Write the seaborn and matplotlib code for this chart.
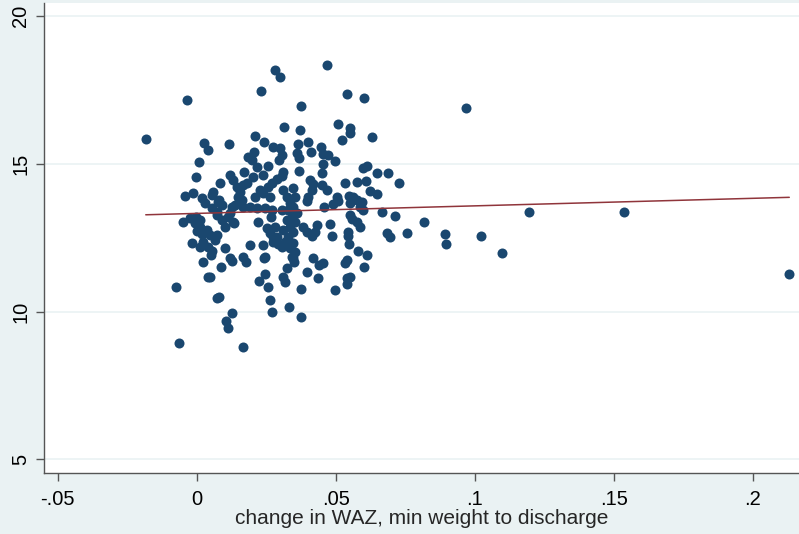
import numpy as np
import pandas as pd
import matplotlib
matplotlib.use("Agg")
import matplotlib.pyplot as plt
import seaborn as sns

# change in WAZ (min weight to discharge) vs outcome
waz_change = [
    -0.0183, -0.0035, 0.0231, 0.0282, 0.0300, 0.0469, 0.0541, 0.0602, 0.0375, 0.0969,
    0.0026, 0.0041, 0.0116, 0.0314, 0.0372, 0.0509, 0.0552, 0.0552, 0.0523, 0.0631,
    0.0210, 0.0242, 0.0275, 0.0300, 0.0307, 0.0296, 0.0365, 0.0361, 0.0368, 0.0401,
    0.0411, 0.0447, 0.0455, 0.0473, 0.0498, 0.0455, 0.0613, 0.0206, 0.0185, 0.0199,
    0.0008, 0.0257, 0.0451, 0.0368, 0.0599, 0.0649, 0.0689, 0.0728, -0.0003, -0.0042,
    -0.0013, 0.0019, 0.0030, 0.0055, 0.0059, 0.0077, 0.0084, 0.0120, 0.0131, 0.0170,
    0.0217, 0.0145, 0.0156, 0.0167, 0.0181, 0.0149, 0.0163, 0.0138, 0.0127, 0.0203,
    0.0239, 0.0210, 0.0228, 0.0239, 0.0257, 0.0271, 0.0264, 0.0167, 0.0192, 0.0217,
    0.0246, 0.0271, 0.0311, 0.0307, 0.0289, 0.0311, 0.0347, 0.0325, 0.0354, 0.0408,
    0.0419, 0.0415, 0.0401, 0.0397, 0.0451, 0.0469, 0.0458, 0.0505, 0.0509, 0.0491,
    0.0534, 0.0577, 0.0609, 0.0624, 0.0649, 0.0548, 0.0563, 0.0577, 0.0595, 0.0552,
    0.0588, 0.0599, 0.0667, 0.0714, 0.0685, 0.0696, 0.0757, 0.0818, 0.0894, 0.0897,
    0.1023, 0.1099, 0.1196, 0.1538, 0.2132, 0.0552, 0.0559, 0.0577, 0.0588, 0.0545,
    0.0545, 0.0480, 0.0433, 0.0426, 0.0415, 0.0397, 0.0383, 0.0336, 0.0347, 0.0329,
    0.0361, 0.0343, 0.0325, 0.0354, 0.0336, 0.0311, 0.0347, 0.0329, 0.0318, 0.0347,
    0.0336, 0.0354, 0.0343, 0.0289, 0.0275, 0.0293, 0.0307, -0.0049, -0.0024, -0.0006,
    0.0012, 0.0001, 0.0019, 0.0037, 0.0048, 0.0073, 0.0066, 0.0023, 0.0041, 0.0055,
    -0.0017, 0.0012, 0.0073, 0.0091, 0.0102, 0.0113, 0.0131, 0.0221, 0.0253, 0.0264,
    0.0275, 0.0102, 0.0192, 0.0239, 0.0120, 0.0167, 0.0246, -0.0003, 0.0012, 0.0120,
    0.0134, 0.0267, 0.0282, 0.0307, 0.0055, 0.0073, 0.0080, 0.0091, 0.0051, 0.0023,
    0.0087, 0.0127, 0.0177, 0.0242, 0.0041, 0.0048, 0.0224, 0.0246, 0.0257, -0.0075,
    0.0073, 0.0080, 0.0264, 0.0271, 0.0127, 0.0105, 0.0113, -0.0064, 0.0167, 0.0347,
    0.0350, 0.0419, 0.0440, 0.0455, 0.0534, 0.0541, 0.0613, 0.0581, 0.0325, 0.0311,
    0.0318, 0.0397, 0.0437, 0.0602, 0.0541, 0.0552, 0.0541, 0.0375, 0.0498, 0.0332,
    0.0375, 0.0548, 0.0487,
]
outcome = [
    15.83, 17.15, 17.46, 18.17, 17.93, 18.33, 17.35, 17.22, 16.95, 16.88,
    15.70, 15.46, 15.67, 16.24, 16.14, 16.34, 16.21, 16.04, 15.80, 15.90,
    15.94, 15.73, 15.56, 15.53, 15.29, 15.13, 15.67, 15.36, 15.19, 15.73,
    15.40, 15.56, 15.33, 15.29, 15.09, 14.99, 14.92, 15.40, 15.23, 15.13,
    15.06, 14.92, 14.69, 14.75, 14.85, 14.69, 14.69, 14.35, 14.55, 13.91,
    14.01, 13.84, 13.67, 13.94, 14.04, 13.71, 14.35, 14.62, 14.45, 14.72,
    14.89, 14.21, 14.04, 14.28, 14.35, 13.88, 13.77, 13.60, 13.54, 14.55,
    14.62, 13.88, 14.11, 14.01, 14.21, 14.35, 13.88, 13.54, 13.54, 13.50,
    13.50, 13.44, 14.72, 14.58, 14.48, 14.11, 14.18, 13.88, 13.88, 14.45,
    14.31, 14.11, 13.88, 13.74, 14.28, 14.11, 13.54, 13.88, 13.74, 13.64,
    14.35, 14.38, 14.42, 14.08, 13.98, 13.91, 13.88, 13.77, 13.71, 13.67,
    13.54, 13.44, 13.37, 13.23, 12.66, 12.52, 12.66, 13.03, 12.63, 12.29,
    12.56, 11.98, 13.37, 13.37, 11.27, 13.27, 13.13, 13.03, 12.86, 12.69,
    12.56, 12.96, 12.93, 12.69, 12.56, 12.69, 12.86, 13.67, 13.54, 13.44,
    13.33, 13.20, 13.10, 13.03, 12.86, 12.76, 12.69, 12.52, 12.35, 12.32,
    12.15, 12.02, 11.85, 12.52, 12.35, 12.29, 12.19, 13.03, 13.17, 13.00,
    12.86, 12.73, 12.63, 12.76, 12.59, 12.59, 12.42, 12.35, 12.19, 12.05,
    12.32, 12.19, 13.27, 13.10, 12.86, 13.20, 13.03, 13.03, 12.83, 12.66,
    12.52, 12.15, 12.25, 12.25, 11.81, 11.85, 11.85, 13.20, 13.10, 13.33,
    13.00, 13.20, 12.86, 13.44, 13.50, 13.37, 13.77, 13.60, 11.92, 11.68,
    11.51, 11.71, 11.68, 11.81, 11.17, 11.17, 11.04, 11.27, 10.83, 10.83,
    10.46, 10.50, 10.40, 9.99, 9.96, 9.69, 9.45, 8.94, 8.81, 11.81,
    11.68, 11.81, 11.58, 11.65, 11.65, 11.75, 11.92, 12.05, 11.48, 11.17,
    11.00, 11.34, 11.14, 11.51, 11.14, 11.17, 10.94, 10.77, 10.73, 10.16,
    9.82, 12.29, 12.56,
]

# linear fit (endpoints of the fitted line as drawn)
fit_x = [-0.0183, 0.2132]
fit_y = [13.27, 13.86]

x_ticks = [-0.05, 0, 0.05, 0.1, 0.15, 0.2]
x_tick_labels = ["-.05", "0", ".05", ".1", ".15", ".2"]
y_ticks = [5, 10, 15, 20]
y_tick_labels = ["5", "10", "15", "20"]

BG = "#eaf2f3"
NAVY = "#1a476f"
MAROON = "#90353b"

sns.set_style("white")
plt.rcParams['font.family'] = ['Liberation Sans', 'DejaVu Sans']

df = pd.DataFrame({'waz': waz_change, 'y': outcome})
fit = pd.DataFrame({'x': fit_x, 'y': fit_y})

fig = plt.figure(figsize=(7.99, 5.34), dpi=100, facecolor=BG)
ax = fig.add_axes([0.0551, 0.1142, 0.9449, 0.8802])
ax.set_facecolor("white")

for yt in y_ticks:
    ax.axhline(yt, color=BG, linewidth=1.2, zorder=0)

sns.scatterplot(data=df, x='waz', y='y', ax=ax, color=NAVY, s=52,
                linewidth=0, zorder=3, legend=False)
sns.lineplot(data=fit, x='x', y='y', ax=ax, color=MAROON, linewidth=1.1,
             zorder=4, legend=False)

ax.set_xlim(-0.0549, 0.2167)
ax.set_ylim(4.54, 20.43)
ax.set_xticks(x_ticks)
ax.set_xticklabels(x_tick_labels, fontsize=14.5)
ax.set_yticks(y_ticks)
ax.set_yticklabels(y_tick_labels, fontsize=14.5, rotation=90, va='center')
ax.tick_params(axis='both', direction='out', length=6, width=1, color='#555555',
               labelcolor='black')
ax.tick_params(axis='x', bottom=True, pad=6)
ax.tick_params(axis='y', left=True, pad=4)

for side in ['top', 'right']:
    ax.spines[side].set_visible(False)
for side in ['left', 'bottom']:
    ax.spines[side].set_color('#555555')
    ax.spines[side].set_linewidth(1)

ax.set_xlabel('change in WAZ, min weight to discharge', fontsize=15, labelpad=0)
ax.set_ylabel('')

plt.savefig('out.png', dpi=100, facecolor=BG)
